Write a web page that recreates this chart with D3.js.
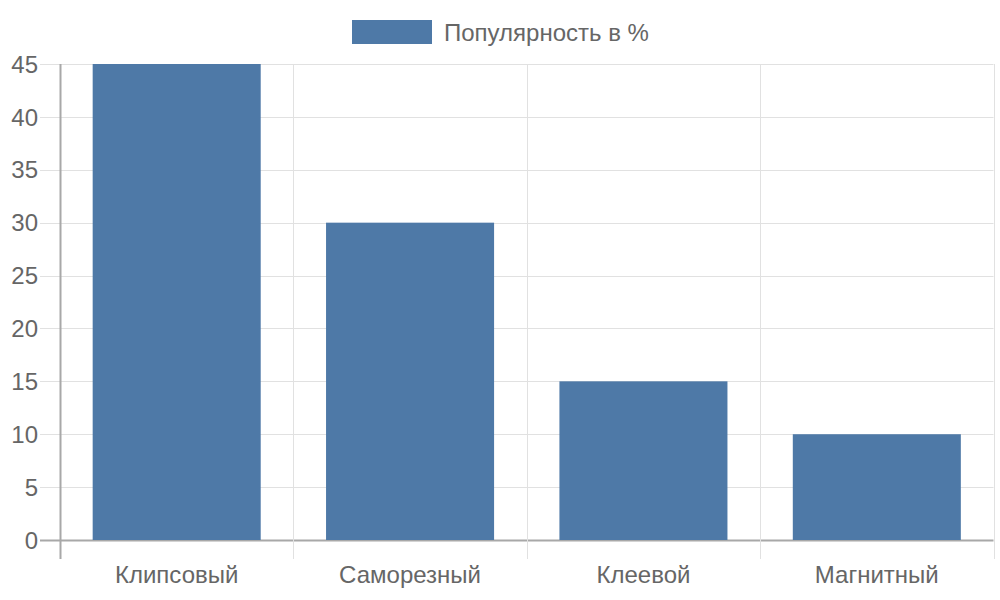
<!DOCTYPE html>
<html>
<head>
<meta charset="utf-8">
<script src="https://cdn.jsdelivr.net/npm/d3@7"></script>
<style>
  html, body { margin: 0; padding: 0; background: #fff; }
  svg { display: block; font-family: "Liberation Sans", Arial, sans-serif; }
</style>
</head>
<body>
<svg id="chart" width="1000" height="600"></svg>
<script>
// ---- data ----
var categories = ["Клипсовый", "Саморезный", "Клеевой", "Магнитный"];
var values = [45, 30, 15, 10];
var seriesLabel = "Популярность в %";
var yTicks = [0, 5, 10, 15, 20, 25, 30, 35, 40, 45];

(function () {
  var svg = d3.select("#chart");
  var pL = 60, pR = 993.5, pT = 64, pB = 540;
  var barColor = "#4e79a7", gridColor = "#e1e1e1", axisColor = "#a8a8a8", textColor = "#666";
  var FS = 24;

  var x = d3.scaleBand().domain(categories).range([pL, pR]).paddingInner(0).paddingOuter(0);
  var y = d3.scaleLinear().domain([0, 45]).range([pB, pT]);

  // ---- horizontal grid + y tick marks ----
  svg.append("g").selectAll("line").data(yTicks).enter().append("line")
    .attr("x1", 40).attr("x2", pR)
    .attr("y1", function (d) { return Math.round(y(d)) + 0.5; })
    .attr("y2", function (d) { return Math.round(y(d)) + 0.5; })
    .attr("stroke", function (d) { return d === 0 ? axisColor : gridColor; })
    .attr("stroke-width", function (d) { return d === 0 ? 2 : 1; });

  // ---- vertical grid (category boundaries) ----
  var vLines = categories.map(function (c) { return x(c); }).concat([pR]);
  svg.append("g").selectAll("line").data(vLines).enter().append("line")
    .attr("x1", function (d) { return Math.round(d) + 0.5; })
    .attr("x2", function (d) { return Math.round(d) + 0.5; })
    .attr("y1", pT).attr("y2", 559)
    .attr("stroke", function (d, i) { return i === 0 ? axisColor : gridColor; })
    .attr("stroke-width", function (d, i) { return i === 0 ? 2 : 1; });

  // ---- bars ----
  var bw = x.bandwidth() * 0.72;
  svg.append("g").selectAll("rect").data(values).enter().append("rect")
    .attr("x", function (d, i) { return x(categories[i]) + (x.bandwidth() - bw) / 2; })
    .attr("width", bw)
    .attr("y", function (d) { return y(d); })
    .attr("height", function (d) { return y(0) - y(d); })
    .attr("fill", barColor);

  // ---- y tick labels ----
  svg.append("g").selectAll("text").data(yTicks).enter().append("text")
    .attr("x", 38).attr("y", function (d) { return y(d); })
    .attr("dy", "0.36em").attr("text-anchor", "end")
    .attr("font-size", FS).attr("fill", textColor)
    .text(function (d) { return d; });

  // ---- x tick labels ----
  svg.append("g").selectAll("text").data(categories).enter().append("text")
    .attr("x", function (d) { return x(d) + x.bandwidth() / 2; })
    .attr("y", 574).attr("dy", "0.36em").attr("text-anchor", "middle")
    .attr("font-size", FS).attr("fill", textColor)
    .text(function (d) { return d; });

  // ---- legend ----
  var lg = svg.append("g");
  lg.append("rect").attr("x", 352).attr("y", 20).attr("width", 80).attr("height", 24).attr("fill", barColor);
  lg.append("text").attr("x", 444).attr("y", 32).attr("dy", "0.36em")
    .attr("font-size", FS).attr("fill", textColor).text(seriesLabel);
})();
</script>
</body>
</html>
